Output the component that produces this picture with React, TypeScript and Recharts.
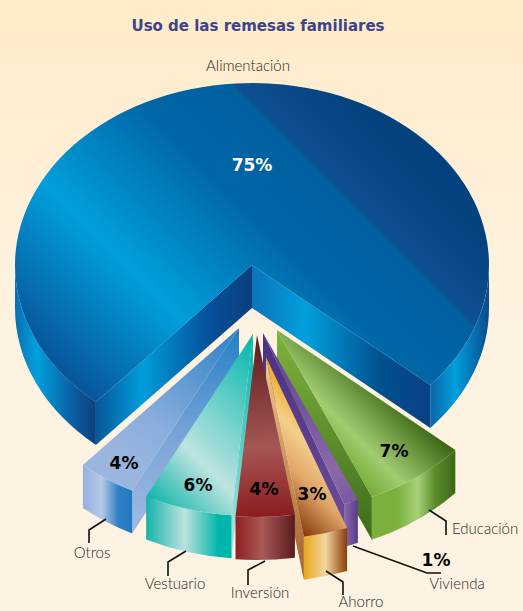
import { Pie, PieChart } from "recharts"

const categories = ["Alimentación", "Otros", "Vestuario", "Inversión", "Ahorro", "Vivienda", "Educación"]
const shares = [75, 4, 6, 4, 3, 1, 7]

const table = categories.map((category, i) => ({ category, share: shares[i] }))

const WIDTH = 523
const HEIGHT = 611
const CX = 252
const CY = 265
const RX = 237
const SQUASH = 0.768
const DEPTH = 43
const START_ANGLE = -41.2

const LABEL_FONT = "Lato, 'Open Sans', sans-serif"
const BOLD_FONT = "'DejaVu Sans', sans-serif"

type Stops = [number, string][]
type Line = [number, number, number, number]

type Look = {
  shift: [number, number]
  top: { line: Line; stops: Stops }
  front: Stops[]
  startWall?: Stops
  endWall?: Stops
  pct: [number, number, string?]
  name: { x: number; y: number; anchor?: "start" | "middle" }
  leader?: [number, number][]
}

// painted back to front, the wedges overlap each other's side walls
const PAINT_ORDER = ["Alimentación", "Otros", "Vestuario", "Educación", "Vivienda", "Ahorro", "Inversión"]

const LOOKS: Record<string, Look> = {
  Alimentación: {
    shift: [0, 0],
    top: {
      line: [100, 405, 377, 128],
      stops: [
        [0, "#08579b"],
        [0.3, "#009fdd"],
        [0.62, "#0067a7"],
        [0.816, "#005f9f"],
        [0.82, "#0f5092"],
        [1, "#03427f"],
      ],
    },
    front: [
      [
        [0, "#0a63a8"],
        [0.42, "#00a0dd"],
        [1, "#0c4a8c"],
      ],
      [
        [0, "#0a6eb0"],
        [0.27, "#00a0dd"],
        [0.75, "#0b5a9e"],
        [1, "#0c3f80"],
      ],
    ],
    startWall: [
      [0, "#0b73ba"],
      [0.3, "#00a0dd"],
      [0.72, "#00508f"],
      [1, "#0a4185"],
    ],
    endWall: [
      [0, "#07579a"],
      [0.3, "#009dda"],
      [0.72, "#06509a"],
      [1, "#0a3f80"],
    ],
    pct: [252, 171, "#ffffff"],
    name: { x: 248, y: 71 },
  },
  Otros: {
    shift: [-13, 63],
    top: {
      line: [236, 328, 130, 470],
      stops: [
        [0, "#2a80c6"],
        [0.7, "#8aaddd"],
        [1, "#9ab6e0"],
      ],
    },
    front: [
      [
        [0, "#93b1df"],
        [0.38, "#b5c9e9"],
        [0.72, "#2f80c6"],
        [1, "#1f78c0"],
      ],
    ],
    endWall: [
      [0, "#a0bbe3"],
      [0.45, "#7da5d8"],
      [1, "#1f80c6"],
    ],
    pct: [124, 469],
    name: { x: 92, y: 558 },
    leader: [
      [106, 519],
      [89, 530],
      [89, 543],
    ],
  },
  Vestuario: {
    shift: [1, 69],
    top: {
      line: [251, 334, 118, 467],
      stops: [
        [0, "#00b7ab"],
        [0.67, "#bde3e0"],
        [1, "#12b5aa"],
      ],
    },
    front: [
      [
        [0, "#14b3a9"],
        [0.45, "#bce2e0"],
        [0.85, "#00b5aa"],
        [1, "#00b5aa"],
      ],
    ],
    endWall: [
      [0, "#bde3e0"],
      [1, "#00b7ab"],
    ],
    pct: [198, 491],
    name: { x: 175, y: 589 },
    leader: [
      [186, 551],
      [168, 562],
      [168, 576],
    ],
  },
  Inversión: {
    shift: [5, 70],
    top: {
      line: [257, 335, 265, 516],
      stops: [
        [0, "#5b1a1c"],
        [0.62, "#a65655"],
        [1, "#8b1d20"],
      ],
    },
    front: [
      [
        [0, "#8f1f22"],
        [0.45, "#a85a58"],
        [1, "#5b1a1c"],
      ],
    ],
    pct: [264, 495],
    name: { x: 260, y: 598 },
    leader: [
      [265, 561],
      [248, 570],
      [248, 585],
    ],
  },
  Ahorro: {
    shift: [14, 92],
    top: {
      line: [266, 357, 196, 427],
      stops: [
        [0, "#e8a81e"],
        [0.32, "#f5cf8c"],
        [0.62, "#dfa468"],
        [1, "#8a3d0b"],
      ],
    },
    front: [
      [
        [0, "#e8a81e"],
        [0.5, "#f3d69e"],
        [1, "#8a3d0b"],
      ],
    ],
    startWall: [
      [0, "#f0c88a"],
      [1, "#a05f28"],
    ],
    pct: [312, 500],
    name: { x: 361, y: 607 },
    leader: [
      [326, 571],
      [343, 582],
      [343, 595],
    ],
  },
  Vivienda: {
    shift: [11, 68],
    top: {
      line: [263, 333, 350, 502],
      stops: [
        [0, "#5a3e90"],
        [0.8, "#8a68aa"],
        [1, "#7a5aa0"],
      ],
    },
    front: [
      [
        [0, "#8a6aaa"],
        [1, "#5a3a8c"],
      ],
    ],
    startWall: [
      [0, "#4a2f84"],
      [1, "#6d4f98"],
    ],
    pct: [436, 566],
    name: { x: 457, y: 589 },
    leader: [
      [353, 546],
      [427, 573],
      [441, 573],
    ],
  },
  Educación: {
    shift: [25, 65],
    top: {
      line: [453, 452, 391.5, 513.5],
      stops: [
        [0, "#3c6816"],
        [0.66, "#a2cc70"],
        [1, "#78ae3a"],
      ],
    },
    front: [
      [
        [0, "#7bb03d"],
        [0.3, "#7bb03d"],
        [0.55, "#a8d079"],
        [0.75, "#5d8d2c"],
        [1, "#3c6816"],
      ],
    ],
    startWall: [
      [0, "#7fb23d"],
      [1, "#3f6b1a"],
    ],
    pct: [394, 457],
    name: { x: 452, y: 534, anchor: "start" },
    leader: [
      [429, 510],
      [446, 521],
      [446, 535],
    ],
  },
}

const rad = (deg: number) => (deg * Math.PI) / 180

function Gradient({ id, stops, line }: { id: string; stops: Stops; line?: Line }) {
  const coords = line
    ? { gradientUnits: "userSpaceOnUse" as const, x1: line[0], y1: line[1], x2: line[2], y2: line[3] }
    : { x1: 0, y1: 0, x2: 1, y2: 0 }
  return (
    <linearGradient id={id} {...coords}>
      {stops.map(([o, c], i) => (
        <stop key={i} offset={o} stopColor={c} />
      ))}
    </linearGradient>
  )
}

// a sector of the flat pie, redrawn as a tilted slab pulled out of the centre
function Wedge(props: any) {
  const { cx, cy, outerRadius, startAngle, endAngle, value } = props
  const category: string = props.payload?.category ?? props.category
  const look = LOOKS[category]
  const rx = outerRadius
  const ry = outerRadius * SQUASH
  const ox = cx + look.shift[0]
  const oy = cy + look.shift[1]
  const at = (deg: number, drop = 0) => [ox + rx * Math.cos(rad(deg)), oy - ry * Math.sin(rad(deg)) + drop]
  const arc = (to: number[], large: number, sweep: number) => `A${rx} ${ry} 0 ${large} ${sweep} ${to[0]} ${to[1]}`

  const [s0, s1] = [at(startAngle), at(endAngle)]
  const large = endAngle - startAngle > 180 ? 1 : 0
  const topPath = `M${ox} ${oy}L${s0[0]} ${s0[1]}${arc(s1, large, 0)}Z`

  // only the lower half of the rim faces the viewer
  const rims = [
    [Math.max(startAngle, -180), Math.min(endAngle, 0)],
    [Math.max(startAngle, 180), Math.min(endAngle, 360)],
  ].filter(([a, b]) => b > a)

  const radial = (deg: number) => {
    const p = at(deg)
    return `M${ox} ${oy}L${p[0]} ${p[1]}L${p[0]} ${p[1] + DEPTH}L${ox} ${oy + DEPTH}Z`
  }
  const id = `w${categories.indexOf(category)}`

  return (
    <g>
      <defs>
        <Gradient id={`${id}top`} stops={look.top.stops} line={look.top.line} />
        {look.front.map((stops, i) => (
          <Gradient key={i} id={`${id}front${i}`} stops={stops} />
        ))}
        {look.startWall && <Gradient id={`${id}start`} stops={look.startWall} line={look.shift[0] === 0 ? undefined : [0, oy, 0, at(startAngle)[1] + DEPTH]} />}
        {look.endWall && <Gradient id={`${id}end`} stops={look.endWall} line={look.shift[0] === 0 ? undefined : [0, at(endAngle)[1] + DEPTH, 0, oy]} />}
      </defs>
      {look.startWall && Math.cos(rad(startAngle)) > 0 && <path d={radial(startAngle)} fill={`url(#${id}start)`} />}
      {look.endWall && Math.cos(rad(endAngle)) < 0 && <path d={radial(endAngle)} fill={`url(#${id}end)`} />}
      {rims.map(([a, b], i) => {
        const [p, q] = [at(a), at(b)]
        const d = `M${p[0]} ${p[1]}${arc(q, 0, 0)}L${q[0]} ${q[1] + DEPTH}${arc([p[0], p[1] + DEPTH], 0, 1)}Z`
        return <path key={i} d={d} fill={`url(#${id}front${i})`} />
      })}
      <path d={topPath} fill={`url(#${id}top)`} />
      {look.leader && (
        <polyline points={look.leader.map((p) => p.join(",")).join(" ")} fill="none" stroke="#111" strokeWidth={1.6} />
      )}
      <text
        x={look.pct[0]}
        y={look.pct[1]}
        textAnchor="middle"
        fontFamily={BOLD_FONT}
        fontWeight={700}
        fontSize={17}
        fill={look.pct[2] ?? "#000"}
      >
        {value}%
      </text>
      <text
        x={look.name.x}
        y={look.name.y}
        textAnchor={look.name.anchor ?? "middle"}
        fontFamily={LABEL_FONT}
        fontWeight={300}
        fontSize={15}
        fill="#1f1f1f"
      >
        {category}
      </text>
    </g>
  )
}

export default function App() {
  return (
    <div
      style={{
        position: "absolute",
        left: 0,
        top: 0,
        width: WIDTH,
        height: HEIGHT,
        overflow: "hidden",
        background: "linear-gradient(180deg, #feebc8 0%, #fef2df 45%, #fef3e3 100%)",
      }}
    >
      <PieChart width={WIDTH} height={HEIGHT} margin={{ top: 0, right: 0, bottom: 0, left: 0 }}>
        <text
          x={258}
          y={31}
          textAnchor="middle"
          fontFamily={BOLD_FONT}
          fontWeight={700}
          fontSize={15}
          fill="#3a448c"
        >
          Uso de las remesas familiares
        </text>
        {PAINT_ORDER.map((name) => (
          <Pie
            key={name}
            data={table}
            dataKey="share"
            nameKey="category"
            cx={CX}
            cy={CY}
            innerRadius={0}
            outerRadius={RX}
            startAngle={START_ANGLE}
            endAngle={START_ANGLE + 360}
            stroke="none"
            isAnimationActive={false}
            shape={(p: any) => ((p.payload?.category ?? p.category) === name ? <Wedge {...p} /> : <g />)}
          />
        ))}
      </PieChart>
    </div>
  )
}
